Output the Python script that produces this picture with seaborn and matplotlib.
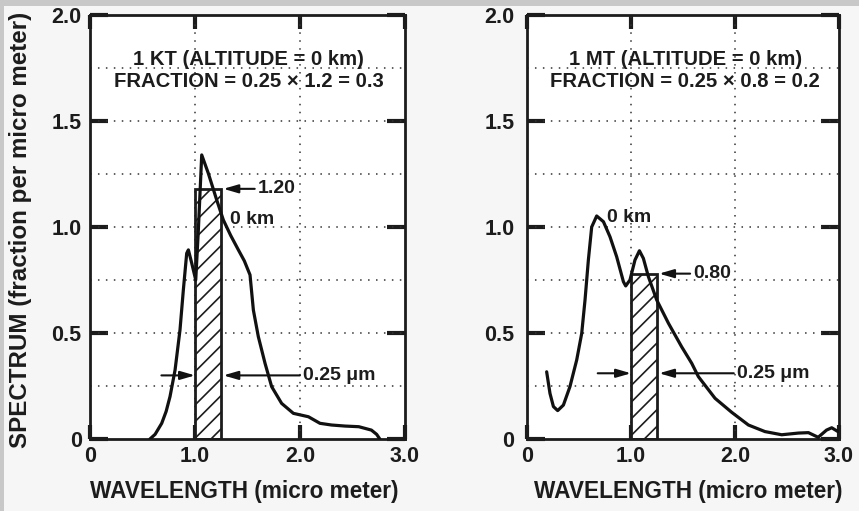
import numpy as np
import pandas as pd
import matplotlib
matplotlib.use("Agg")
import matplotlib.pyplot as plt
from matplotlib.patches import Rectangle
import seaborn as sns

# ---------------- data ----------------
kt_wavelength = [0.571, 0.62, 0.683, 0.725, 0.762, 0.81, 0.857, 0.889, 0.921, 0.937,
                 0.969, 1.007, 1.032, 1.064, 1.127, 1.207, 1.27, 1.34, 1.413, 1.47, 1.524,
                 1.556, 1.603, 1.667, 1.73, 1.825, 1.937, 2.08, 2.19, 2.30, 2.43, 2.56,
                 2.68, 2.73, 2.76]
kt_spectrum = [0.0, 0.022, 0.074, 0.13, 0.2, 0.325, 0.514, 0.703, 0.876, 0.892,
               0.829, 0.75, 0.986, 1.34, 1.253, 1.127, 1.033, 0.96, 0.892, 0.84, 0.774,
               0.608, 0.483, 0.357, 0.247, 0.168, 0.121, 0.105, 0.074, 0.066, 0.061, 0.058,
               0.042, 0.022, 0.0]

mt_wavelength = [0.189, 0.221, 0.254, 0.295, 0.35, 0.413, 0.478, 0.526, 0.558, 0.59, 0.622,
                 0.67, 0.735, 0.798, 0.862, 0.927, 0.949, 0.99, 1.038, 1.081, 1.119, 1.167,
                 1.247, 1.36, 1.487, 1.584, 1.648, 1.808, 1.968, 2.129, 2.288, 2.449, 2.61,
                 2.706, 2.80, 2.88, 2.93, 2.99]
mt_spectrum = [0.317, 0.215, 0.153, 0.134, 0.160, 0.247, 0.373, 0.498, 0.656, 0.844, 1.0,
               1.052, 1.025, 0.954, 0.86, 0.742, 0.722, 0.75, 0.844, 0.888, 0.852, 0.766,
               0.656, 0.546, 0.435, 0.357, 0.294, 0.192, 0.126, 0.066, 0.035, 0.02, 0.028,
               0.03, 0.008, 0.042, 0.053, 0.035]

band_left = [1.0, 1.0]          # micro meter
band_width = [0.25, 0.25]       # micro meter
band_height = [1.18, 0.78]      # spectrum value of the shaded band
band_labels = ["1.20", "0.80"]
titles = [["1 KT (ALTITUDE = 0 km)", "FRACTION = 0.25 \u00d7 1.2 = 0.3"],
          ["1 MT (ALTITUDE = 0 km)", "FRACTION = 0.25 \u00d7 0.8 = 0.2"]]
curve_label = "0 km"
width_label = "0.25 \u03bcm"
y_ticks = [0, 0.5, 1.0, 1.5, 2.0]
y_tick_labels = ["0", "0.5", "1.0", "1.5", "2.0"]
x_ticks = [0, 1.0, 2.0, 3.0]
x_tick_labels = ["0", "1.0", "2.0", "3.0"]
grid_y = [0.25, 0.5, 0.75, 1.0, 1.25, 1.5, 1.75]
grid_x = [1.0, 2.0]

# ---------------- style ----------------
sns.set_theme(style="white")
plt.rcParams['font.family'] = ['Liberation Sans', 'DejaVu Sans']
plt.rcParams['font.weight'] = 'bold'
plt.rcParams['hatch.linewidth'] = 1.2

INK = '#1c1c1c'
W, H = 859, 511
fig = plt.figure(figsize=(W / 100, H / 100), dpi=100, facecolor='#f6f6f6')
# scan border bands
fig.patches.append(Rectangle((0, 1 - 6 / H), 1, 6 / H, transform=fig.transFigure,
                             facecolor='#c8c8c8', edgecolor='none', zorder=0))
fig.patches.append(Rectangle((0, 0), 4 / W, 1, transform=fig.transFigure,
                             facecolor='#c8c8c8', edgecolor='none', zorder=0))

ax_l = fig.add_axes([90 / W, 1 - 439 / H, 315 / W, 424 / H])
ax_r = fig.add_axes([527 / W, 1 - 439 / H, 312 / W, 424 / H])

curves = [(kt_wavelength, kt_spectrum), (mt_wavelength, mt_spectrum)]
label_pos = [dict(title_x=1.51, bar_lbl_x=1.60, km=(1.33, 1.035), wl_x=2.03, wl_y=0.30),
             dict(title_x=1.52, bar_lbl_x=1.60, km=(0.765, 1.045), wl_x=2.02, wl_y=0.31)]
xlabel_x = [0.49, 0.518]
ytick_pad = [6, 9]

for i, ax in enumerate([ax_l, ax_r]):
    ax.set_facecolor('white')
    wl, sp = curves[i]
    df = pd.DataFrame({"wavelength": wl, "spectrum": sp})
    # grid
    for gy in grid_y:
        ax.axhline(gy, color='#333333', lw=1.1, ls=(0, (1.0, 4.2)), zorder=1)
    for gx in grid_x:
        ax.axvline(gx, color='#333333', lw=1.1, ls=(0, (1.0, 4.2)), zorder=1)
    # shaded band
    ax.bar([band_left[i]], [band_height[i]], width=band_width[i], align='edge',
           facecolor='white', edgecolor=INK, hatch='//', lw=2.0, zorder=2)
    # spectrum curve
    sns.lineplot(data=df, x="wavelength", y="spectrum", ax=ax, color='#111111',
                 lw=2.3, sort=False, estimator=None, zorder=3,
                 solid_joinstyle='round', solid_capstyle='round')
    ax.set_xlim(0, 3.0)
    ax.set_ylim(0, 2.0)
    ax.set_xticks(x_ticks)
    ax.set_xticklabels(x_tick_labels, fontsize=15.5, fontweight='bold', color=INK)
    ax.set_yticks(y_ticks)
    ax.set_yticklabels(y_tick_labels, fontsize=15.5, fontweight='bold', color=INK)
    ax.tick_params(axis='y', direction='in', length=13, width=3, left=True, right=True,
                   pad=ytick_pad[i], color=INK)
    ax.tick_params(axis='x', direction='in', length=10, width=3, bottom=True, top=True,
                   pad=5, color=INK)
    for s in ax.spines.values():
        s.set_visible(True)
        s.set_linewidth(2.0)
        s.set_color(INK)
    ax.set_xlabel("WAVELENGTH (micro meter)", fontsize=16.3, fontweight='bold', color=INK)
    ax.xaxis.set_label_coords(xlabel_x[i], -0.097)
    ax.set_ylabel("")

    p = label_pos[i]
    ax.text(p['title_x'], 1.788, titles[i][0], ha='center', va='center', fontsize=14.6,
            fontweight='bold', color=INK)
    ax.text(p['title_x'], 1.685, titles[i][1], ha='center', va='center', fontsize=14.6,
            fontweight='bold', color=INK)
    arrow = dict(arrowstyle='-|>,head_length=0.55,head_width=0.16', lw=1.5,
                 color='#111111', mutation_scale=16, shrinkA=0, shrinkB=0)
    bar_right = band_left[i] + band_width[i]
    ax.annotate(band_labels[i], xy=(bar_right + 0.02, band_height[i]),
                xytext=(p['bar_lbl_x'], band_height[i]), ha='left', va='center',
                fontsize=14, fontweight='bold', color=INK, arrowprops=arrow)
    ax.text(p['km'][0], p['km'][1], curve_label, ha='left', va='center', fontsize=14,
            fontweight='bold', color=INK)
    ax.annotate(width_label, xy=(bar_right + 0.02, p['wl_y']),
                xytext=(p['wl_x'], p['wl_y']), ha='left', va='center',
                fontsize=14, fontweight='bold', color=INK, arrowprops=arrow)
    ax.annotate('', xy=(band_left[i], p['wl_y']), xytext=(0.68, p['wl_y']),
                arrowprops=arrow)

ax_l.set_ylabel("SPECTRUM (fraction per micro meter)", fontsize=17.4, fontweight='bold',
                color=INK)
ax_l.yaxis.set_label_coords(-0.184, 0.493)

fig.savefig("out.png", dpi=100, facecolor=fig.get_facecolor())
